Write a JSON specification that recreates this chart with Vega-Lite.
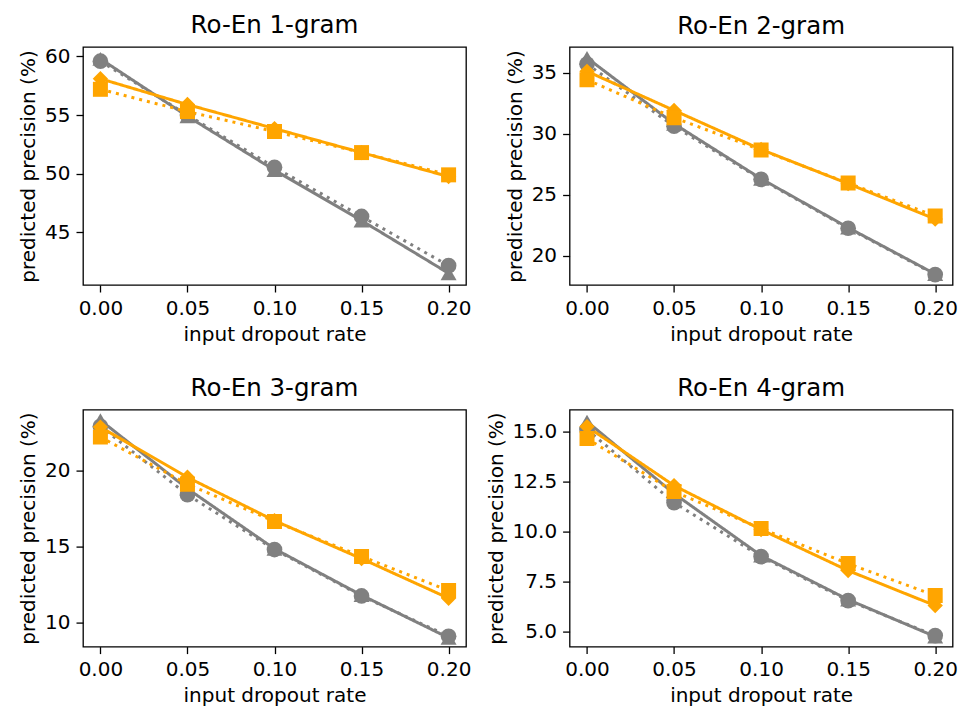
{
  "$schema": "https://vega.github.io/schema/vega-lite/v6.json",
  "padding": {"left": 17, "top": 12, "right": 5, "bottom": 5},
  "background": "white",
  "config": {
    "font": "DejaVu Sans",
    "view": {"stroke": "black", "strokeWidth": 1.3},
    "axis": {"grid": false, "domain": false, "tickColor": "black", "tickSize": 7, "tickWidth": 1.3, "labelFontSize": 20, "labelColor": "black", "titleFontSize": 20, "titleFontWeight": "normal", "titleColor": "black", "labelPadding": 6, "titlePadding": 6},
    "title": {"fontSize": 24.5, "fontWeight": "normal", "color": "black", "offset": 8}
  },
  "data": {"values": [
    {"p": 1, "s": "a", "x": 0, "y": 59.8}, {"p": 1, "s": "a", "x": 0.05, "y": 54.9}, {"p": 1, "s": "a", "x": 0.1, "y": 50.3}, {"p": 1, "s": "a", "x": 0.15, "y": 46.0}, {"p": 1, "s": "a", "x": 0.2, "y": 41.5},
    {"p": 1, "s": "b", "x": 0, "y": 59.6}, {"p": 1, "s": "b", "x": 0.05, "y": 55.0}, {"p": 1, "s": "b", "x": 0.1, "y": 50.55}, {"p": 1, "s": "b", "x": 0.15, "y": 46.35}, {"p": 1, "s": "b", "x": 0.2, "y": 42.15},
    {"p": 1, "s": "c", "x": 0, "y": 58.1}, {"p": 1, "s": "c", "x": 0.05, "y": 55.9}, {"p": 1, "s": "c", "x": 0.1, "y": 53.85}, {"p": 1, "s": "c", "x": 0.15, "y": 51.8}, {"p": 1, "s": "c", "x": 0.2, "y": 49.75},
    {"p": 1, "s": "d", "x": 0, "y": 57.2}, {"p": 1, "s": "d", "x": 0.05, "y": 55.3}, {"p": 1, "s": "d", "x": 0.1, "y": 53.6}, {"p": 1, "s": "d", "x": 0.15, "y": 51.8}, {"p": 1, "s": "d", "x": 0.2, "y": 49.9},
    {"p": 2, "s": "a", "x": 0, "y": 36.2}, {"p": 2, "s": "a", "x": 0.05, "y": 30.8}, {"p": 2, "s": "a", "x": 0.1, "y": 26.3}, {"p": 2, "s": "a", "x": 0.15, "y": 22.3}, {"p": 2, "s": "a", "x": 0.2, "y": 18.5},
    {"p": 2, "s": "b", "x": 0, "y": 35.7}, {"p": 2, "s": "b", "x": 0.05, "y": 30.6}, {"p": 2, "s": "b", "x": 0.1, "y": 26.25}, {"p": 2, "s": "b", "x": 0.15, "y": 22.25}, {"p": 2, "s": "b", "x": 0.2, "y": 18.45},
    {"p": 2, "s": "c", "x": 0, "y": 35.1}, {"p": 2, "s": "c", "x": 0.05, "y": 31.9}, {"p": 2, "s": "c", "x": 0.1, "y": 28.7}, {"p": 2, "s": "c", "x": 0.15, "y": 25.9}, {"p": 2, "s": "c", "x": 0.2, "y": 23.0},
    {"p": 2, "s": "d", "x": 0, "y": 34.4}, {"p": 2, "s": "d", "x": 0.05, "y": 31.3}, {"p": 2, "s": "d", "x": 0.1, "y": 28.65}, {"p": 2, "s": "d", "x": 0.15, "y": 25.95}, {"p": 2, "s": "d", "x": 0.2, "y": 23.25},
    {"p": 3, "s": "a", "x": 0, "y": 23.3}, {"p": 3, "s": "a", "x": 0.05, "y": 18.8}, {"p": 3, "s": "a", "x": 0.1, "y": 14.85}, {"p": 3, "s": "a", "x": 0.15, "y": 11.8}, {"p": 3, "s": "a", "x": 0.2, "y": 9.0},
    {"p": 3, "s": "b", "x": 0, "y": 22.9}, {"p": 3, "s": "b", "x": 0.05, "y": 18.4}, {"p": 3, "s": "b", "x": 0.1, "y": 14.8}, {"p": 3, "s": "b", "x": 0.15, "y": 11.75}, {"p": 3, "s": "b", "x": 0.2, "y": 9.1},
    {"p": 3, "s": "c", "x": 0, "y": 22.85}, {"p": 3, "s": "c", "x": 0.05, "y": 19.55}, {"p": 3, "s": "c", "x": 0.1, "y": 16.7}, {"p": 3, "s": "c", "x": 0.15, "y": 14.2}, {"p": 3, "s": "c", "x": 0.2, "y": 11.6},
    {"p": 3, "s": "d", "x": 0, "y": 22.2}, {"p": 3, "s": "d", "x": 0.05, "y": 19.1}, {"p": 3, "s": "d", "x": 0.1, "y": 16.65}, {"p": 3, "s": "d", "x": 0.15, "y": 14.35}, {"p": 3, "s": "d", "x": 0.2, "y": 12.1},
    {"p": 4, "s": "a", "x": 0, "y": 15.5}, {"p": 4, "s": "a", "x": 0.05, "y": 11.9}, {"p": 4, "s": "a", "x": 0.1, "y": 8.8}, {"p": 4, "s": "a", "x": 0.15, "y": 6.6}, {"p": 4, "s": "a", "x": 0.2, "y": 4.75},
    {"p": 4, "s": "b", "x": 0, "y": 15.1}, {"p": 4, "s": "b", "x": 0.05, "y": 11.45}, {"p": 4, "s": "b", "x": 0.1, "y": 8.75}, {"p": 4, "s": "b", "x": 0.15, "y": 6.55}, {"p": 4, "s": "b", "x": 0.2, "y": 4.8},
    {"p": 4, "s": "c", "x": 0, "y": 15.25}, {"p": 4, "s": "c", "x": 0.05, "y": 12.3}, {"p": 4, "s": "c", "x": 0.1, "y": 10.1}, {"p": 4, "s": "c", "x": 0.15, "y": 8.05}, {"p": 4, "s": "c", "x": 0.2, "y": 6.3},
    {"p": 4, "s": "d", "x": 0, "y": 14.65}, {"p": 4, "s": "d", "x": 0.05, "y": 12.0}, {"p": 4, "s": "d", "x": 0.1, "y": 10.15}, {"p": 4, "s": "d", "x": 0.15, "y": 8.4}, {"p": 4, "s": "d", "x": 0.2, "y": 6.8}
  ]},
  "columns": 2,
  "spacing": {"column": 103.6, "row": 124.6},
  "bounds": "flush",
  "concat": [
    {
      "title": "Ro-En 1-gram", "width": 383, "height": 238,
      "transform": [{"filter": "datum.p == 1"}],
      "encoding": {
        "x": {"field": "x", "type": "quantitative", "scale": {"domain": [-0.01, 0.21], "nice": false, "zero": false}, "axis": {"values": [0, 0.05, 0.1, 0.15, 0.2], "format": ".2f", "title": "input dropout rate"}},
        "y": {"field": "y", "type": "quantitative", "scale": {"domain": [40.5, 60.81], "nice": false, "zero": false}, "axis": {"values": [45, 50, 55, 60], "title": "predicted precision (%)"}}
      },
      "layer": [
        {"mark": {"type": "line", "strokeWidth": 3, "clip": true}, "encoding": {
          "color": {"field": "s", "type": "nominal", "scale": {"domain": ["a", "b", "c", "d"], "range": ["#808080", "#808080", "#FFA500", "#FFA500"]}, "legend": null},
          "strokeDash": {"field": "s", "type": "nominal", "scale": {"domain": ["a", "b", "c", "d"], "range": [[1, 0], [3, 5], [1, 0], [3, 5]]}, "legend": null}}},
        {"mark": {"type": "point", "filled": true, "opacity": 1, "clip": true}, "encoding": {
          "color": {"field": "s", "type": "nominal", "legend": null},
          "size": {"field": "s", "type": "nominal", "scale": {"domain": ["a", "b", "c", "d"], "range": [256, 225, 324, 196]}, "legend": null},
          "shape": {"field": "s", "type": "nominal", "scale": {"domain": ["a", "b", "c", "d"], "range": ["triangle-up", "circle", "diamond", "square"]}, "legend": null}}}
      ]
    },
    {
      "title": "Ro-En 2-gram", "width": 383, "height": 238,
      "transform": [{"filter": "datum.p == 2"}],
      "encoding": {
        "x": {"field": "x", "type": "quantitative", "scale": {"domain": [-0.01, 0.21], "nice": false, "zero": false}, "axis": {"values": [0, 0.05, 0.1, 0.15, 0.2], "format": ".2f", "title": "input dropout rate"}},
        "y": {"field": "y", "type": "quantitative", "scale": {"domain": [17.6, 37.09], "nice": false, "zero": false}, "axis": {"values": [20, 25, 30, 35], "title": "predicted precision (%)"}}
      },
      "layer": [
        {"mark": {"type": "line", "strokeWidth": 3, "clip": true}, "encoding": {
          "color": {"field": "s", "type": "nominal", "legend": null},
          "strokeDash": {"field": "s", "type": "nominal", "legend": null}}},
        {"mark": {"type": "point", "filled": true, "opacity": 1, "clip": true}, "encoding": {
          "color": {"field": "s", "type": "nominal", "legend": null},
          "size": {"field": "s", "type": "nominal", "legend": null},
          "shape": {"field": "s", "type": "nominal", "legend": null}}}
      ]
    },
    {
      "title": "Ro-En 3-gram", "width": 383, "height": 237,
      "transform": [{"filter": "datum.p == 3"}],
      "encoding": {
        "x": {"field": "x", "type": "quantitative", "scale": {"domain": [-0.01, 0.21], "nice": false, "zero": false}, "axis": {"values": [0, 0.05, 0.1, 0.15, 0.2], "format": ".2f", "title": "input dropout rate"}},
        "y": {"field": "y", "type": "quantitative", "scale": {"domain": [8.42, 24.0], "nice": false, "zero": false}, "axis": {"values": [10, 15, 20], "title": "predicted precision (%)"}}
      },
      "layer": [
        {"mark": {"type": "line", "strokeWidth": 3, "clip": true}, "encoding": {
          "color": {"field": "s", "type": "nominal", "legend": null},
          "strokeDash": {"field": "s", "type": "nominal", "legend": null}}},
        {"mark": {"type": "point", "filled": true, "opacity": 1, "clip": true}, "encoding": {
          "color": {"field": "s", "type": "nominal", "legend": null},
          "size": {"field": "s", "type": "nominal", "legend": null},
          "shape": {"field": "s", "type": "nominal", "legend": null}}}
      ]
    },
    {
      "title": "Ro-En 4-gram", "width": 383, "height": 237,
      "transform": [{"filter": "datum.p == 4"}],
      "encoding": {
        "x": {"field": "x", "type": "quantitative", "scale": {"domain": [-0.01, 0.21], "nice": false, "zero": false}, "axis": {"values": [0, 0.05, 0.1, 0.15, 0.2], "format": ".2f", "title": "input dropout rate"}},
        "y": {"field": "y", "type": "quantitative", "scale": {"domain": [4.25, 16.1], "nice": false, "zero": false}, "axis": {"values": [5, 7.5, 10, 12.5, 15], "format": ".1f", "title": "predicted precision (%)"}}
      },
      "layer": [
        {"mark": {"type": "line", "strokeWidth": 3, "clip": true}, "encoding": {
          "color": {"field": "s", "type": "nominal", "legend": null},
          "strokeDash": {"field": "s", "type": "nominal", "legend": null}}},
        {"mark": {"type": "point", "filled": true, "opacity": 1, "clip": true}, "encoding": {
          "color": {"field": "s", "type": "nominal", "legend": null},
          "size": {"field": "s", "type": "nominal", "legend": null},
          "shape": {"field": "s", "type": "nominal", "legend": null}}}
      ]
    }
  ]
}
